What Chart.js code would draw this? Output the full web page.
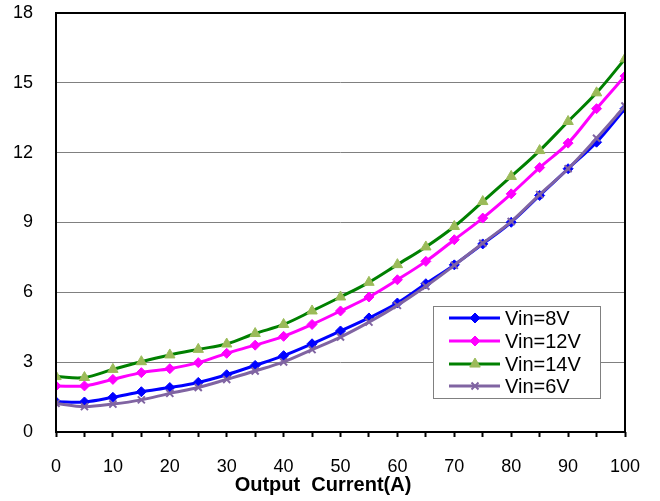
<!DOCTYPE html>
<html>
<head>
<meta charset="utf-8">
<script src="https://cdn.jsdelivr.net/npm/chart.js@4.4.1/dist/chart.umd.min.js"></script>
<style>
html,body{margin:0;padding:0;background:#fff;}
#wrap{width:660px;height:501px;position:relative;}
</style>
</head>
<body>
<div id="wrap"><canvas id="c" width="660" height="501"></canvas></div>
<script>
const currents = [0,5,10,15,20,25,30,35,40,45,50,55,60,65,70,75,80,85,90,95,100];
const vin8  = [1.30,1.29,1.49,1.73,1.91,2.13,2.46,2.86,3.28,3.79,4.34,4.90,5.54,6.37,7.18,8.08,9.01,10.16,11.31,12.45,13.89];
const vin12 = [1.98,1.98,2.26,2.55,2.72,2.98,3.38,3.73,4.11,4.62,5.20,5.80,6.54,7.33,8.26,9.19,10.23,11.36,12.41,13.89,15.29];
const vin14 = [2.38,2.34,2.69,3.02,3.31,3.55,3.78,4.23,4.62,5.20,5.80,6.43,7.19,7.95,8.83,9.90,10.98,12.09,13.34,14.57,16.03];
const vin6  = [1.23,1.09,1.20,1.38,1.66,1.91,2.26,2.62,3.01,3.54,4.08,4.72,5.44,6.26,7.16,8.11,9.04,10.20,11.31,12.62,14.00];
const seriesNames = ['Vin=8V','Vin=12V','Vin=14V','Vin=6V'];
const yTicks = [0,3,6,9,12,15,18];
const xTitle = 'Output  Current(A)';

const FONT = 'Arial, "Liberation Sans", sans-serif';

function pts(arr){ return currents.map((x,i)=>({x:x,y:arr[i]})); }

const datasets = [
  {label:seriesNames[0], data:pts(vin8), borderColor:'#0000FF', backgroundColor:'#0000FF', pointStyle:'rectRot', pointRadius:5, pointBorderWidth:1, borderWidth:3, order:2},
  {label:seriesNames[1], data:pts(vin12), borderColor:'#FF00FF', backgroundColor:'#FF00FF', pointStyle:'rectRot', pointRadius:5, pointBorderWidth:1, borderWidth:3, order:3},
  {label:seriesNames[2], data:pts(vin14), borderColor:'#008000', backgroundColor:'#9BBB59', pointBorderColor:'#9BBB59', pointStyle:'triangle', pointRadius:6, pointBorderWidth:1, borderWidth:3, order:4},
  {label:seriesNames[3], data:pts(vin6), borderColor:'#8064A2', backgroundColor:'#8064A2', pointBorderColor:'#8064A2', pointStyle:'crossRot', pointRadius:5, pointBorderWidth:2, borderWidth:3, order:1}
];

function drawMarker(ctx, style, x, y, r, fill, stroke, bw){
  ctx.save();
  ctx.fillStyle = fill; ctx.strokeStyle = stroke; ctx.lineWidth = bw;
  ctx.beginPath();
  if(style==='rectRot'){
    ctx.moveTo(x, y-r); ctx.lineTo(x+r, y); ctx.lineTo(x, y+r); ctx.lineTo(x-r, y); ctx.closePath();
    ctx.fill(); ctx.stroke();
  } else if(style==='triangle'){
    const h = r*1.5;
    ctx.moveTo(x, y-h*0.66); ctx.lineTo(x+r*0.87, y+h*0.34); ctx.lineTo(x-r*0.87, y+h*0.34); ctx.closePath();
    ctx.fill(); ctx.stroke();
  } else if(style==='crossRot'){
    const d = r*0.7;
    ctx.moveTo(x-d,y-d); ctx.lineTo(x+d,y+d); ctx.moveTo(x+d,y-d); ctx.lineTo(x-d,y+d);
    ctx.stroke();
  }
  ctx.restore();
}

const framePlugin = {
  id:'frame',
  afterDatasetsDraw(chart){
    const {ctx, chartArea:a} = chart;
    ctx.save();
    ctx.strokeStyle = '#000'; ctx.lineWidth = 2;
    ctx.strokeRect(a.left, a.top, a.right-a.left, a.bottom-a.top);
    ctx.restore();
  }
};

const titlePlugin = {
  id:'xTitleText',
  afterDraw(chart){
    const ctx = chart.ctx;
    ctx.save();
    ctx.fillStyle = '#000';
    ctx.font = 'bold 20px ' + FONT;
    ctx.textAlign = 'center'; ctx.textBaseline = 'middle';
    ctx.fillText(xTitle, 323, 485);
    ctx.restore();
  }
};

const legendPlugin = {
  id:'boxLegend',
  afterDraw(chart){
    const ctx = chart.ctx;
    const bx = 433, by = 306, bw = 167, bh = 92;
    ctx.save();
    ctx.fillStyle = '#fff';
    ctx.fillRect(bx, by, bw, bh);
    ctx.strokeStyle = '#808080'; ctx.lineWidth = 1;
    ctx.strokeRect(bx+0.5, by+0.5, bw, bh);
    const rows = [318, 341, 364, 386];
    chart.data.datasets.forEach((ds, i) => {
      const y = rows[i];
      ctx.strokeStyle = ds.borderColor; ctx.lineWidth = ds.borderWidth;
      ctx.beginPath(); ctx.moveTo(449, y); ctx.lineTo(500, y); ctx.stroke();
      drawMarker(ctx, ds.pointStyle, 475, y, ds.pointRadius, ds.backgroundColor, ds.pointBorderColor || ds.borderColor, ds.pointBorderWidth);
      ctx.fillStyle = '#000';
      ctx.font = '20px ' + FONT;
      ctx.textBaseline = 'middle'; ctx.textAlign = 'left';
      ctx.fillText(ds.label, 505, y+1);
    });
    ctx.restore();
  }
};

new Chart(document.getElementById('c'), {
  type:'line',
  data:{datasets:datasets},
  options:{
    responsive:false,
    animation:false,
    devicePixelRatio:1,
    layout:{padding:{top:13, right:35, left:0, bottom:0}},
    elements:{line:{tension:0.35, cubicInterpolationMode:'default'}},
    plugins:{legend:{display:false}, tooltip:{enabled:false}, title:{display:false}},
    scales:{
      x:{
        type:'linear', min:0, max:100,
        afterFit(s){ s.height = 69; s.paddingLeft = 0; s.paddingRight = 0; },
        ticks:{stepSize:5, autoSkip:false, maxRotation:0, padding:19, color:'#000', font:{family:FONT, size:18},
          callback:(v)=> (v%10===0 ? String(v) : '')},
        grid:{display:true, drawOnChartArea:false, drawTicks:true, tickLength:5, tickColor:'#000', tickWidth:2},
        border:{display:false},
        title:{display:false}
      },
      y:{
        type:'linear', min:0, max:18,
        afterFit(s){ s.width = 56; s.paddingTop = 0; s.paddingBottom = 0; },
        afterBuildTicks(s){ s.ticks = yTicks.map(v=>({value:v})); },
        ticks:{padding:23, color:'#000', font:{family:FONT, size:18}},
        grid:{color:'#808080', lineWidth:1, drawTicks:false},
        border:{display:false}
      }
    }
  },
  plugins:[framePlugin, legendPlugin, titlePlugin]
});
</script>
</body>
</html>
